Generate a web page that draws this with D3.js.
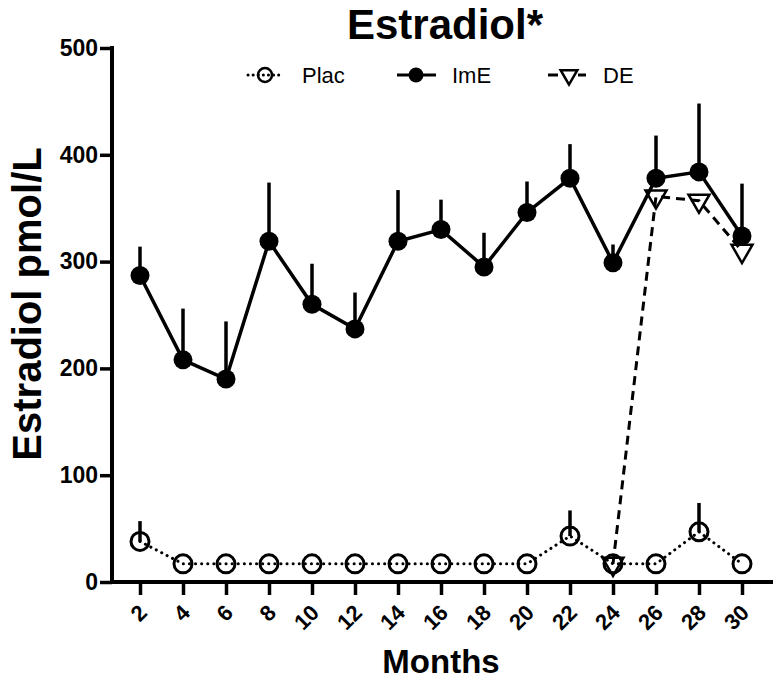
<!DOCTYPE html>
<html>
<head>
<meta charset="utf-8">
<script src="https://cdn.jsdelivr.net/npm/d3@7"></script>
<style>
  html, body { margin: 0; padding: 0; background: #fff; }
  svg { display: block; }
  text { font-family: "Liberation Sans", Arial, sans-serif; }
</style>
</head>
<body>
<svg id="chart" width="773" height="691"></svg>
<script>
// ---- data ----
const months = [2, 4, 6, 8, 10, 12, 14, 16, 18, 20, 22, 24, 26, 28, 30];
const placMean = [38, 17, 17, 17, 17, 17, 17, 17, 17, 17, 43, 17, 17, 47, 17];
const placErr  = [19, 0, 0, 0, 0, 0, 0, 0, 0, 0, 24, 0, 0, 27, 0];
const imeMean  = [287, 208, 190, 319, 260, 237, 319, 330, 295, 346, 378, 299, 378, 384, 324];
const imeErr   = [27, 48, 54, 55, 38, 34, 48, 28, 32, 29, 32, 17, 40, 64, 49];
const deMonths = [24, 26, 28, 30];
const deMean   = [17, 361, 357, 310];
const yTicks   = [0, 100, 200, 300, 400, 500];
const seriesNames = ["Plac", "ImE", "DE"];
const titleText = "Estradiol*";
const xLabel = "Months";
const yLabel = "Estradiol pmol/L";

// ---- layout ----
const svg = d3.select("#chart");
const x = d3.scaleLinear().domain([2, 30]).range([140, 742]);
const y = d3.scaleLinear().domain([0, 500]).range([582, 48]);
const axisX0 = 112, axisRight = 773;

const plac = months.map((m, i) => ({m, v: placMean[i], e: placErr[i]}));
const ime = months.map((m, i) => ({m, v: imeMean[i], e: imeErr[i]}));
const de = deMonths.map((m, i) => ({m, v: deMean[i]}));

const line = d3.line().x(d => x(d.m)).y(d => y(d.v));

// ---- axes ----
const yAxis = d3.axisLeft(y).tickValues(yTicks).tickSize(12).tickSizeOuter(0).tickPadding(2);
const gy = svg.append("g").attr("transform", `translate(${axisX0},0)`).call(yAxis);
gy.select(".domain").remove();
gy.selectAll(".tick line").attr("stroke", "#000").attr("stroke-width", 3.5);
gy.selectAll(".tick text").attr("font-size", 23).attr("font-weight", "bold").attr("fill", "#000")
  .attr("font-family", '"Liberation Sans", Arial, sans-serif');
svg.append("line").attr("x1", axisX0).attr("x2", axisX0).attr("y1", y(500) - 2).attr("y2", y(0) + 2)
  .attr("stroke", "#000").attr("stroke-width", 4);

const xAxis = d3.axisBottom(x).tickValues(months).tickSize(13).tickSizeOuter(0);
const gx = svg.append("g").attr("transform", `translate(0,${y(0)})`).call(xAxis);
gx.select(".domain").remove();
gx.selectAll(".tick line").attr("stroke", "#000").attr("stroke-width", 3.5);
gx.selectAll(".tick text")
  .attr("font-size", 22).attr("font-weight", "bold").attr("fill", "#000")
  .attr("font-family", '"Liberation Sans", Arial, sans-serif')
  .attr("text-anchor", "end")
  .attr("y", 0).attr("dy", 0)
  .attr("transform", "translate(8,32) rotate(-45)");
svg.append("line").attr("x1", axisX0 - 2).attr("x2", axisRight).attr("y1", y(0)).attr("y2", y(0))
  .attr("stroke", "#000").attr("stroke-width", 4);

// ---- Plac ----
svg.append("path").datum(plac).attr("d", line).attr("fill", "none")
  .attr("stroke", "#000").attr("stroke-width", 3).attr("stroke-dasharray", "0.1,6")
  .attr("stroke-linecap", "round");
svg.selectAll(".perr").data(plac.filter(d => d.e > 0)).enter().append("line")
  .attr("x1", d => x(d.m)).attr("x2", d => x(d.m))
  .attr("y1", d => y(d.v)).attr("y2", d => y(d.v + d.e))
  .attr("stroke", "#000").attr("stroke-width", 3.5);
svg.selectAll(".pc").data(plac).enter().append("circle")
  .attr("cx", d => x(d.m)).attr("cy", d => y(d.v)).attr("r", 9)
  .attr("fill", "none").attr("stroke", "#000").attr("stroke-width", 3);

// ---- DE ----
svg.append("path").datum(de).attr("d", line).attr("fill", "none")
  .attr("stroke", "#000").attr("stroke-width", 3).attr("stroke-dasharray", "9,6");
const tri = d3.symbol().type(d3.symbolTriangle).size(190);
svg.selectAll(".dt").data(de).enter().append("path")
  .attr("d", tri)
  .attr("transform", d => `translate(${x(d.m)},${y(d.v)}) rotate(180)`)
  .attr("fill", "none").attr("stroke", "#000").attr("stroke-width", 2.5);

// ---- ImE ----
svg.append("path").datum(ime).attr("d", line).attr("fill", "none")
  .attr("stroke", "#000").attr("stroke-width", 3.5);
svg.selectAll(".ierr").data(ime).enter().append("line")
  .attr("x1", d => x(d.m)).attr("x2", d => x(d.m))
  .attr("y1", d => y(d.v)).attr("y2", d => y(d.v + d.e))
  .attr("stroke", "#000").attr("stroke-width", 3.5);
svg.selectAll(".ic").data(ime).enter().append("circle")
  .attr("cx", d => x(d.m)).attr("cy", d => y(d.v)).attr("r", 9.5)
  .attr("fill", "#000");

// ---- title & labels ----
svg.append("text").attr("x", 445).attr("y", 39).attr("text-anchor", "middle")
  .attr("font-size", 42).attr("font-weight", "bold").text(titleText);
svg.append("text").attr("x", 441).attr("y", 673).attr("text-anchor", "middle")
  .attr("font-size", 33).attr("font-weight", "bold").text(xLabel);
svg.append("text").attr("transform", "translate(41,304) rotate(-90)").attr("text-anchor", "middle")
  .attr("font-size", 40).attr("font-weight", "bold").text(yLabel);

// ---- legend ----
const ly = 75;
const leg = [
  {name: seriesNames[0], x0: 248, x1: 283, mx: 265, tx: 302, dash: "0.1,5", cap: "round"},
  {name: seriesNames[1], x0: 397, x1: 436, mx: 416, tx: 452, dash: null, cap: "butt"},
  {name: seriesNames[2], x0: 548, x1: 586, mx: 569, tx: 603, dash: "10,5", cap: "butt"}
];
leg.forEach((l, i) => {
  svg.append("line").attr("x1", l.x0).attr("x2", l.x1).attr("y1", ly).attr("y2", ly)
    .attr("stroke", "#000").attr("stroke-width", 3).attr("stroke-linecap", l.cap)
    .attr("stroke-dasharray", l.dash);
  if (i === 0) {
    svg.append("circle").attr("cx", l.mx).attr("cy", ly).attr("r", 7)
      .attr("fill", "none").attr("stroke", "#000").attr("stroke-width", 2.5);
  } else if (i === 1) {
    svg.append("circle").attr("cx", l.mx).attr("cy", ly).attr("r", 7.5).attr("fill", "#000");
  } else {
    svg.append("path").attr("d", d3.symbol().type(d3.symbolTriangle).size(120))
      .attr("transform", `translate(${l.mx},${ly}) rotate(180)`)
      .attr("fill", "#fff").attr("stroke", "#000").attr("stroke-width", 2.5);
  }
  svg.append("text").attr("x", l.tx).attr("y", ly + 8).attr("font-size", 22).text(l.name);
});
</script>
</body>
</html>
